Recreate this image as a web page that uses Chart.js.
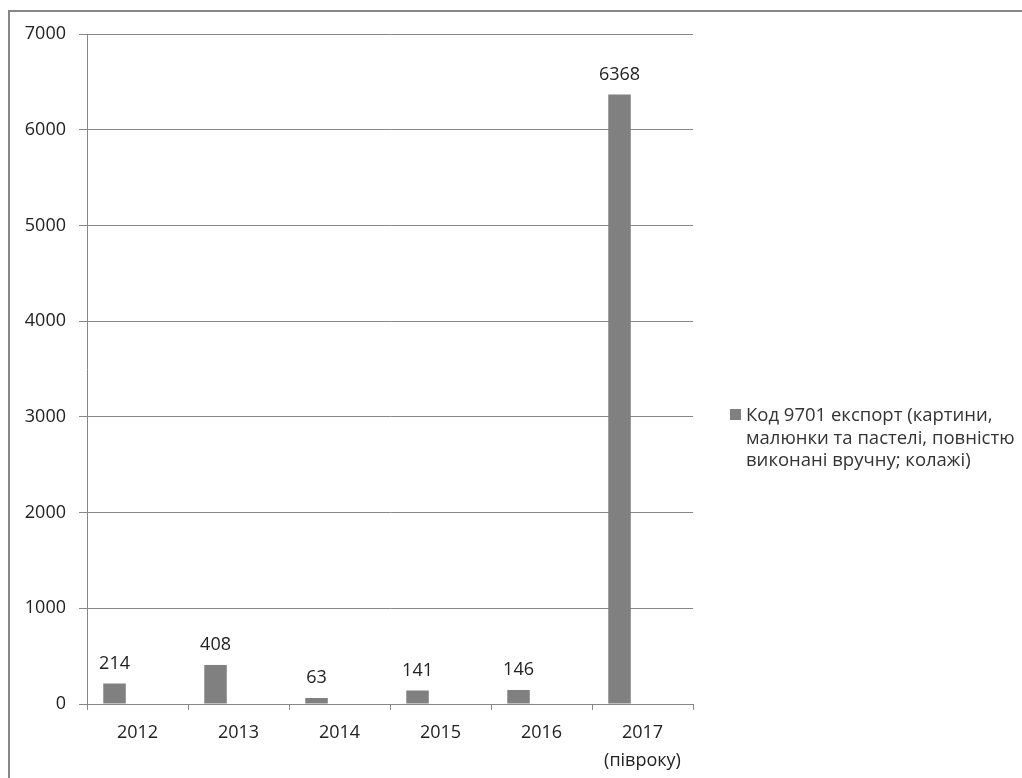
<!DOCTYPE html>
<html>
<head>
<meta charset="utf-8">
<script src="https://cdn.jsdelivr.net/npm/chart.js@4"></script>
<style>
  html,body{margin:0;padding:0;background:#fff;}
  #wrap{position:relative;width:1022px;height:778px;overflow:hidden;}
  #frame{position:absolute;left:8px;top:10px;width:1100px;height:900px;border-left:2px solid #878787;border-top:2px solid #878787;}
  #legend{position:absolute;left:730px;top:403px;font:18.5px "Open Sans",sans-serif;color:#333;line-height:22.5px;}
  #legend .sw{position:absolute;left:0;top:6px;width:11px;height:11px;background:#808080;}
  #legend .tx{margin-left:16px;white-space:pre;}
</style>
</head>
<body>
<div id="wrap">
  <div id="frame"></div>
  <canvas id="c" width="1022" height="778"></canvas>
  <div id="legend"><span class="sw"></span><div class="tx" id="legendText"></div></div>
</div>
<script>
/* ---- data ---- */
const years  = ['2012','2013','2014','2015','2016',['2017','(півроку)']];
const values = [214, 408, 63, 141, 146, 6368];
const series = 'Код 9701 експорт (картини,\nмалюнки та пастелі, повністю\nвиконані вручну; колажі)';
const yTicks = [0,1000,2000,3000,4000,5000,6000,7000];

const FONT = '"Open Sans", sans-serif';
const GRID = '#878787';
const BAR  = '#808080';

document.getElementById('legendText').textContent = series;

/* value labels above the bars */
const barLabels = {
  id:'barLabels',
  afterDatasetsDraw(chart){
    const ctx = chart.ctx;
    const meta = chart.getDatasetMeta(0);
    ctx.save();
    ctx.font = '18px ' + FONT;
    ctx.fillStyle = '#222';
    ctx.textAlign = 'center';
    ctx.textBaseline = 'middle';
    meta.data.forEach((bar,i)=>{
      ctx.fillText(String(values[i]), bar.x, bar.y - 20);
    });
    ctx.restore();
  }
};

new Chart(document.getElementById('c'),{
  type:'bar',
  data:{
    labels:years,
    datasets:[
      {label:series, data:values, backgroundColor:BAR, categoryPercentage:0.91, barPercentage:0.49},
      {label:'', data:values.map(()=>null), backgroundColor:BAR, categoryPercentage:0.91, barPercentage:0.49}
    ]
  },
  options:{
    responsive:false,
    animation:false,
    devicePixelRatio:1,
    layout:{padding:{top:34,right:329,bottom:0,left:0}},
    plugins:{legend:{display:false},tooltip:{enabled:false}},
    scales:{
      x:{
        grid:{drawOnChartArea:false,color:GRID,tickLength:6,offset:true},
        border:{color:GRID},
        ticks:{font:{family:FONT,size:18,lineHeight:1.55},color:'#222',padding:9,maxRotation:0},
        afterFit(s){ s.height = 74; }
      },
      y:{
        min:0,max:7000,
        afterBuildTicks(s){ s.ticks = yTicks.map(v=>({value:v})); },
        grid:{color:GRID,tickLength:8},
        border:{color:GRID},
        ticks:{font:{family:FONT,size:18},color:'#222',padding:13,callback:v=>String(v)},
        afterFit(s){ s.width = 87; }
      }
    }
  },
  plugins:[barLabels]
});
</script>
</body>
</html>
